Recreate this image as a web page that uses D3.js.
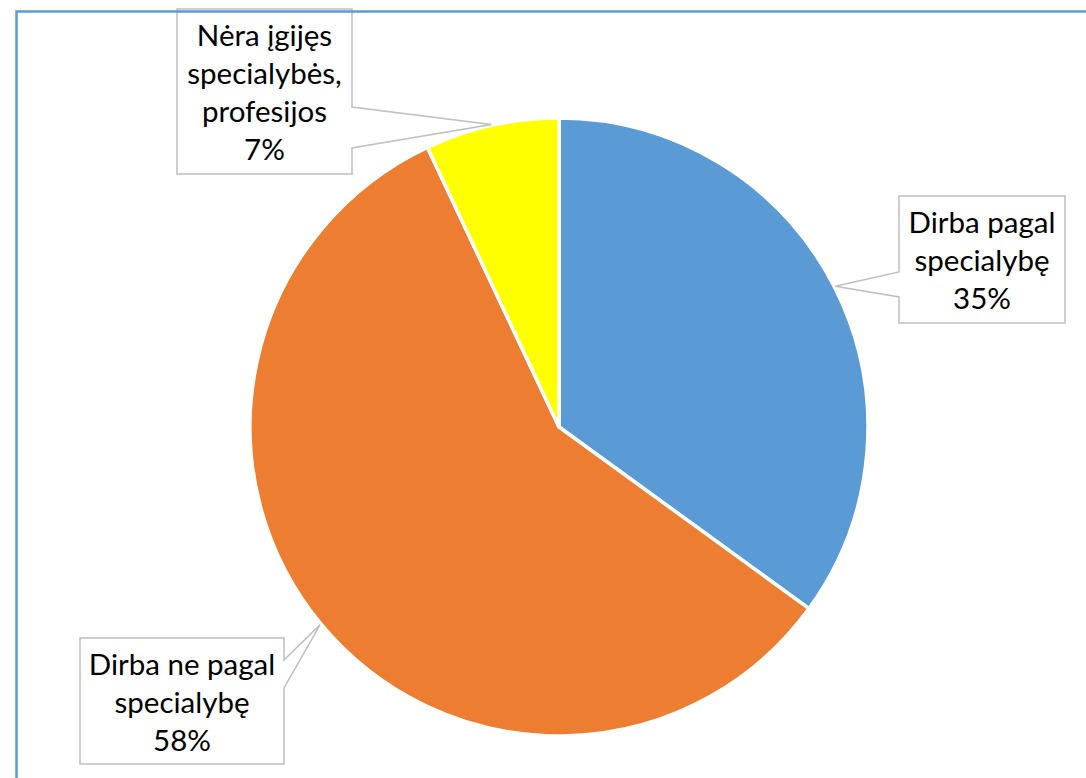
<!DOCTYPE html>
<html>
<head>
<meta charset="utf-8">
<script src="https://cdn.jsdelivr.net/npm/d3@7"></script>
<style>
  html, body { margin: 0; padding: 0; background: #fff; }
  svg { display: block; }
</style>
</head>
<body>
<svg id="chart" width="1086" height="778"></svg>
<script>
// ---- data ----
const categories = ["Dirba pagal specialybę", "Dirba ne pagal specialybę", "Nėra įgijęs specialybės, profesijos"];
const values = [35, 58, 7];
const labelLines = [
  ["Dirba pagal", "specialybę"],
  ["Dirba ne pagal", "specialybę"],
  ["Nėra įgijęs", "specialybės,", "profesijos"]
];
const colors = ["#5B9BD5", "#ED7D31", "#FFFF00"];

// ---- layout ----
const W = 1086, H = 778;
const cx = 559, cy = 427, R = 309;
const boxes = [
  { x: 899, y: 196, w: 166, h: 127, side: "left",  p1: 272, p2: 297 },
  { x: 80,  y: 638, w: 204, h: 126, side: "right", p1: 660, p2: 688 },
  { x: 177, y: 9,   w: 175, h: 165, side: "right", p1: 107, p2: 148 }
];

const svg = d3.select("#chart");

const data = categories.map((c, i) => ({ name: c, value: values[i], color: colors[i], lines: labelLines[i], box: boxes[i] }));
const total = d3.sum(values);

const pie = d3.pie().sort(null).value(d => d.value).startAngle(0).endAngle(2 * Math.PI);
const arcs = pie(data);
const arc = d3.arc().innerRadius(0).outerRadius(R);
const tipArc = d3.arc().innerRadius(R + 1).outerRadius(R + 1);

const g = svg.append("g").attr("transform", `translate(${cx},${cy})`);
g.selectAll("path.slice").data(arcs).enter().append("path")
  .attr("class", "slice")
  .attr("d", arc)
  .attr("fill", d => d.data.color)
  .attr("stroke", "#fff")
  .attr("stroke-width", 3.5)
  .attr("stroke-linejoin", "round");

// callout labels
const fmt = v => Math.round(v / total * 100) + "%";
arcs.forEach(a => {
  const b = a.data.box;
  const [tx0, ty0] = tipArc.centroid(a);
  const tx = tx0 + cx, ty = ty0 + cy;
  let pts;
  if (b.side === "left") {
    pts = [[b.x, b.y], [b.x + b.w, b.y], [b.x + b.w, b.y + b.h], [b.x, b.y + b.h], [b.x, b.p2], [tx, ty], [b.x, b.p1]];
  } else {
    pts = [[b.x, b.y], [b.x + b.w, b.y], [b.x + b.w, b.p1], [tx, ty], [b.x + b.w, b.p2], [b.x + b.w, b.y + b.h], [b.x, b.y + b.h]];
  }
  svg.append("path")
    .attr("d", d3.line()(pts) + "Z")
    .attr("fill", "#fff")
    .attr("stroke", "#BFBFBF")
    .attr("stroke-width", 1.5);
  const lines = a.data.lines.concat([fmt(a.data.value)]);
  const t = svg.append("text")
    .attr("text-anchor", "middle")
    .attr("font-family", "Lato, 'Open Sans', sans-serif")
    .attr("font-size", 29.5)
    .attr("fill", "#000");
  lines.forEach((l, i) => {
    t.append("tspan").attr("x", b.x + b.w / 2).attr("y", b.y + 37 + i * 38).text(l);
  });
});

// outer frame (partially cropped)
svg.append("rect")
  .attr("x", 16.5).attr("y", 11.5)
  .attr("width", W + 20).attr("height", H + 20)
  .attr("fill", "none")
  .attr("stroke", "#5B9BD5")
  .attr("stroke-width", 2.5);
</script>
</body>
</html>
